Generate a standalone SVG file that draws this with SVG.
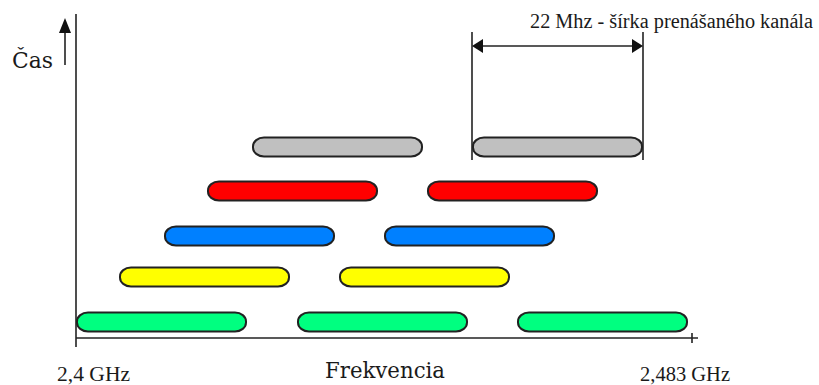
<svg xmlns="http://www.w3.org/2000/svg" width="819" height="385" viewBox="0 0 819 385">
  <style>
    .txt { font-family: "Liberation Serif", "Times New Roman", serif; fill: #1a1a1a; }
    .slab { font-family: "DejaVu Serif", "Liberation Serif", serif; fill: #1a1a1a; }
    .axis { stroke: #222; stroke-width: 1.6; fill: none; }
    .pill { stroke: #222; stroke-width: 2; }
    .green { fill: #00FF80; }
    .yellow { fill: #FFFF00; }
    .blue { fill: #0080FF; }
    .red { fill: #FF0000; }
    .gray { fill: #C0C0C0; }
  </style>
  <defs>
    <rect id="ch" x="0" y="-9.5" width="169" height="19" rx="11" ry="9" />
  </defs>
  <rect width="819" height="385" fill="#ffffff" />

  <!-- axes -->
  <g id="axes">
    <line class="axis" x1="76" y1="14" x2="76" y2="347" />
    <line class="axis" x1="76" y1="338" x2="698" y2="338" />
    <line class="axis" x1="692" y1="333" x2="692" y2="343" />
    <line class="axis" x1="65" y1="30" x2="65" y2="65" />
    <polygon points="65,18 59,33 71,33" fill="#111" />
  </g>

  <!-- axis labels -->
  <g id="labels">
    <text class="slab" x="12" y="68" font-size="23" textLength="41" lengthAdjust="spacingAndGlyphs">Čas</text>
    <text class="txt" x="57" y="381" font-size="20" textLength="73" lengthAdjust="spacingAndGlyphs">2,4  GHz</text>
    <text class="slab" x="325" y="378" font-size="23" textLength="120" lengthAdjust="spacingAndGlyphs">Frekvencia</text>
    <text class="txt" x="640" y="381" font-size="20" textLength="90" lengthAdjust="spacingAndGlyphs">2,483 GHz</text>
  </g>

  <!-- channel width dimension -->
  <g id="dimension">
    <line class="axis" x1="472" y1="32" x2="472" y2="160" />
    <line class="axis" x1="643" y1="32" x2="643" y2="160" />
    <line class="axis" x1="480" y1="46" x2="635" y2="46" />
    <polygon points="472,46 483,39 483,53" fill="#111" />
    <polygon points="643,46 632,39 632,53" fill="#111" />
    <text class="txt" x="530" y="28" font-size="20" textLength="283" lengthAdjust="spacingAndGlyphs">22 Mhz - šírka prenášaného kanála</text>
  </g>

  <!-- channels, one row per time slot -->
  <g id="row1">
    <use href="#ch" class="pill green" x="77" y="322" />
    <use href="#ch" class="pill green" x="298" y="322" />
    <use href="#ch" class="pill green" x="518" y="322" />
  </g>
  <g id="row2">
    <use href="#ch" class="pill yellow" x="120" y="277" />
    <use href="#ch" class="pill yellow" x="340" y="277" />
  </g>
  <g id="row3">
    <use href="#ch" class="pill blue" x="165" y="236" />
    <use href="#ch" class="pill blue" x="385" y="236" />
  </g>
  <g id="row4">
    <use href="#ch" class="pill red" x="208" y="191" />
    <use href="#ch" class="pill red" x="428" y="191" />
  </g>
  <g id="row5">
    <use href="#ch" class="pill gray" x="253" y="147" />
    <use href="#ch" class="pill gray" x="473" y="147" />
  </g>
</svg>
